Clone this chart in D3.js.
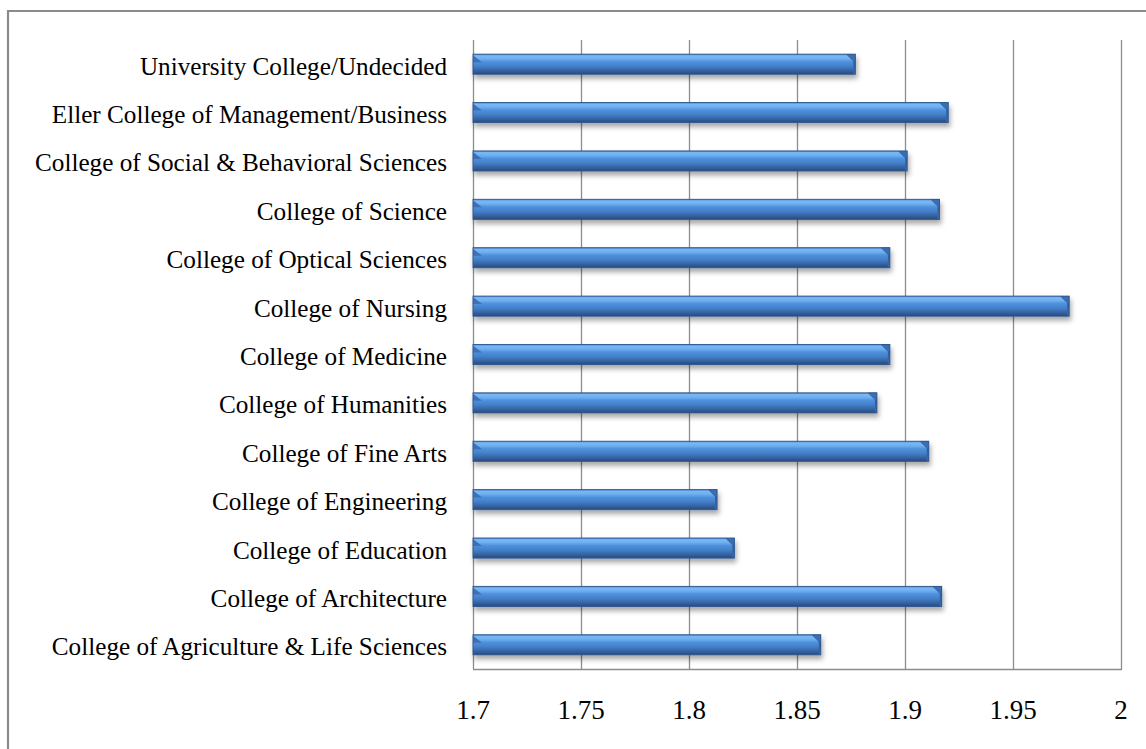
<!DOCTYPE html>
<html>
<head>
<meta charset="utf-8">
<script src="https://cdn.jsdelivr.net/npm/d3@7"></script>
<style>
  html, body { margin: 0; padding: 0; background: #fff; }
  svg { display: block; }
  text { font-family: "Liberation Serif", "Times New Roman", serif; fill: #000; }
</style>
</head>
<body>
<svg id="chart" width="1146" height="749"></svg>
<script>
// Colleges, listed top to bottom
const categories = [
  "University College/Undecided",
  "Eller College of Management/Business",
  "College of Social & Behavioral Sciences",
  "College of Science",
  "College of Optical Sciences",
  "College of Nursing",
  "College of Medicine",
  "College of Humanities",
  "College of Fine Arts",
  "College of Engineering",
  "College of Education",
  "College of Architecture",
  "College of Agriculture & Life Sciences"
];
const values = [1.877, 1.920, 1.901, 1.916, 1.893, 1.976, 1.893, 1.887, 1.911, 1.813, 1.821, 1.917, 1.861];
const tickValues = [1.7, 1.75, 1.8, 1.85, 1.9, 1.95, 2];
const tickLabels = ["1.7", "1.75", "1.8", "1.85", "1.9", "1.95", "2"];

const svg = d3.select("#chart");

const plot = { left: 473, right: 1121, top: 40, bottom: 669 };

const x = d3.scaleLinear().domain([1.7, 2.0]).range([plot.left, plot.right]);
const y = d3.scaleBand().domain(categories).range([plot.top, plot.bottom])
  .paddingInner(0.585).paddingOuter(0.2925);

const defs = svg.append("defs");

// Cylinder-like shading across the bar thickness
const grad = defs.append("linearGradient").attr("id", "barGrad")
  .attr("x1", 0).attr("y1", 0).attr("x2", 0).attr("y2", 1);
[["0%", "#4579bd"], ["8%", "#7ab8f4"], ["22%", "#6fb0f2"], ["38%", "#4f90dc"],
 ["60%", "#4380c9"], ["80%", "#3765a6"], ["100%", "#274a7c"]]
  .forEach(([o, c]) => grad.append("stop").attr("offset", o).attr("stop-color", c));

// Bevelled end caps
const capGrad = defs.append("linearGradient").attr("id", "capGrad")
  .attr("x1", 0).attr("y1", 0).attr("x2", 0).attr("y2", 1);
[["0%", "#2c5690"], ["100%", "#3a6aaa"]]
  .forEach(([o, c]) => capGrad.append("stop").attr("offset", o).attr("stop-color", c));

const shadow = defs.append("filter").attr("id", "shadow")
  .attr("x", "-5%").attr("y", "-50%").attr("width", "110%").attr("height", "230%");
shadow.append("feDropShadow").attr("dx", 1.5).attr("dy", 4).attr("stdDeviation", 2.6)
  .attr("flood-color", "#000").attr("flood-opacity", 0.34);

// Outer chart border
svg.append("path")
  .attr("d", `M8,749 L8,11 L1146,11`)
  .attr("fill", "none").attr("stroke", "#8a8a8a").attr("stroke-width", 2.2);

// Vertical gridlines
svg.append("g").selectAll("line").data(tickValues).join("line")
  .attr("x1", d => Math.round(x(d)) + 0.5).attr("x2", d => Math.round(x(d)) + 0.5)
  .attr("y1", plot.top).attr("y2", plot.bottom)
  .attr("stroke", "#8c8c8c").attr("stroke-width", 1.3);

// Bottom axis line
svg.append("line")
  .attr("x1", plot.left).attr("x2", plot.right + 1)
  .attr("y1", plot.bottom + 0.5).attr("y2", plot.bottom + 0.5)
  .attr("stroke", "#8c8c8c").attr("stroke-width", 1.3);

// Tick labels
svg.append("g").selectAll("text").data(tickValues).join("text")
  .attr("x", d => x(d)).attr("y", 719)
  .attr("text-anchor", "middle")
  .style("font-size", "27px")
  .text((d, i) => tickLabels[i]);

// Category labels
svg.append("g").selectAll("text").data(categories).join("text")
  .attr("x", 447).attr("y", d => y(d) + y.bandwidth() / 2 + 2)
  .attr("text-anchor", "end").attr("dominant-baseline", "central")
  .style("font-size", "25.2px")
  .text(d => d);

// Bars
const bars = svg.append("g").selectAll("g").data(values).join("g")
  .attr("filter", "url(#shadow)");

bars.append("rect")
  .attr("x", x(1.7))
  .attr("y", (d, i) => y(categories[i]))
  .attr("width", d => x(d) - x(1.7))
  .attr("height", y.bandwidth())
  .attr("fill", "url(#barGrad)");

const cap = 9;
// right-end bevel facet
bars.append("path")
  .attr("d", (d, i) => {
    const x1 = x(d), t = y(categories[i]), b = t + y.bandwidth();
    return `M${x1 - cap},${t} L${x1},${t} L${x1},${b} L${x1 - 2},${b} L${x1 - 2},${t + cap - 2} Z`;
  })
  .attr("fill", "url(#capGrad)");
bars.append("path")
  .attr("d", (d, i) => {
    const x1 = x(d), t = y(categories[i]);
    return `M${x1 - cap},${t} L${x1 - 2},${t + cap - 2} L${x1},${t + cap - 2} L${x1},${t} Z`;
  })
  .attr("fill", "#3a6db0");
// left-end bevel facet
bars.append("path")
  .attr("d", (d, i) => {
    const x0 = x(1.7), t = y(categories[i]);
    return `M${x0},${t + 1} L${x0 + cap},${t + cap - 1} L${x0},${t + cap - 1} Z`;
  })
  .attr("fill", "#3d70b6");
// bar outline
bars.append("rect")
  .attr("x", x(1.7))
  .attr("y", (d, i) => y(categories[i]))
  .attr("width", d => x(d) - x(1.7))
  .attr("height", y.bandwidth())
  .attr("fill", "none").attr("stroke", "#2d5790").attr("stroke-width", 0.9);
</script>
</body>
</html>
